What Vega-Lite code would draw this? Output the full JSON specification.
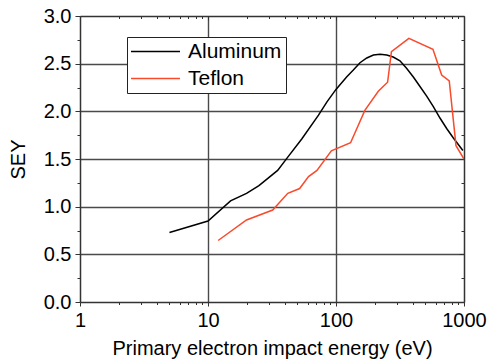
{
  "$schema": "https://vega.github.io/schema/vega-lite/v6.json",
  "width": 384,
  "height": 286,
  "autosize": {"type": "none"},
  "padding": {"left": 80, "top": 16, "right": 24, "bottom": 60},
  "background": "white",
  "config": {
    "view": {"stroke": null},
    "font": "Liberation Sans",
    "axis": {
      "labelFont": "Liberation Sans",
      "labelFontSize": 20,
      "labelColor": "#000000",
      "titleFont": "Liberation Sans",
      "titleFontSize": 20,
      "titleFontWeight": "normal",
      "titleColor": "#000000",
      "domainColor": "#333333",
      "domainWidth": 1.5,
      "tickColor": "#333333",
      "tickWidth": 1,
      "gridColor": "#4a4a4a",
      "gridWidth": 1.4,
      "labelOverlap": false,
      "labelFlush": false,
      "labelBound": false
    },
    "legend": {
      "orient": "none",
      "legendX": 47,
      "legendY": 21,
      "strokeColor": "#222222",
      "fillColor": "white",
      "padding": 4,
      "symbolType": "M-4,0H4",
      "symbolSize": 150,
      "symbolStrokeWidth": 1.5,
      "symbolOffset": 14,
      "labelFont": "Liberation Sans",
      "labelFontSize": 21,
      "labelColor": "#000000",
      "labelOffset": 22,
      "rowPadding": 5
    }
  },
  "data": {
    "values": [
      {"material": "Aluminum", "energy": 5, "sey": 0.73},
      {"material": "Aluminum", "energy": 10, "sey": 0.85},
      {"material": "Aluminum", "energy": 15, "sey": 1.06},
      {"material": "Aluminum", "energy": 20, "sey": 1.14},
      {"material": "Aluminum", "energy": 25, "sey": 1.22},
      {"material": "Aluminum", "energy": 35, "sey": 1.38},
      {"material": "Aluminum", "energy": 42, "sey": 1.52},
      {"material": "Aluminum", "energy": 54, "sey": 1.71},
      {"material": "Aluminum", "energy": 73, "sey": 1.96},
      {"material": "Aluminum", "energy": 85, "sey": 2.10},
      {"material": "Aluminum", "energy": 100, "sey": 2.23},
      {"material": "Aluminum", "energy": 121, "sey": 2.36},
      {"material": "Aluminum", "energy": 136, "sey": 2.43},
      {"material": "Aluminum", "energy": 154, "sey": 2.51},
      {"material": "Aluminum", "energy": 174, "sey": 2.56},
      {"material": "Aluminum", "energy": 196, "sey": 2.59},
      {"material": "Aluminum", "energy": 221, "sey": 2.60},
      {"material": "Aluminum", "energy": 249, "sey": 2.59},
      {"material": "Aluminum", "energy": 280, "sey": 2.57},
      {"material": "Aluminum", "energy": 316, "sey": 2.53},
      {"material": "Aluminum", "energy": 357, "sey": 2.45},
      {"material": "Aluminum", "energy": 402, "sey": 2.36},
      {"material": "Aluminum", "energy": 453, "sey": 2.26},
      {"material": "Aluminum", "energy": 511, "sey": 2.16},
      {"material": "Aluminum", "energy": 576, "sey": 2.05},
      {"material": "Aluminum", "energy": 649, "sey": 1.93},
      {"material": "Aluminum", "energy": 732, "sey": 1.82},
      {"material": "Aluminum", "energy": 826, "sey": 1.72},
      {"material": "Aluminum", "energy": 980, "sey": 1.59},
      {"material": "Teflon", "energy": 12, "sey": 0.645},
      {"material": "Teflon", "energy": 20, "sey": 0.86},
      {"material": "Teflon", "energy": 32, "sey": 0.965},
      {"material": "Teflon", "energy": 42, "sey": 1.14},
      {"material": "Teflon", "energy": 52, "sey": 1.19},
      {"material": "Teflon", "energy": 61, "sey": 1.315},
      {"material": "Teflon", "energy": 71, "sey": 1.38},
      {"material": "Teflon", "energy": 92, "sey": 1.585},
      {"material": "Teflon", "energy": 130, "sey": 1.67},
      {"material": "Teflon", "energy": 168, "sey": 2.01},
      {"material": "Teflon", "energy": 214, "sey": 2.21},
      {"material": "Teflon", "energy": 253, "sey": 2.305},
      {"material": "Teflon", "energy": 271, "sey": 2.625},
      {"material": "Teflon", "energy": 371, "sey": 2.765},
      {"material": "Teflon", "energy": 572, "sey": 2.65},
      {"material": "Teflon", "energy": 669, "sey": 2.38},
      {"material": "Teflon", "energy": 767, "sey": 2.32},
      {"material": "Teflon", "energy": 866, "sey": 1.64},
      {"material": "Teflon", "energy": 1000, "sey": 1.50}
    ]
  },
  "layer": [
    {
      "transform": [{"filter": "datum.material == 'Aluminum'"}],
      "mark": {"type": "line", "strokeWidth": 1.5, "clip": true},
      "encoding": {
        "x": {
          "field": "energy",
          "type": "quantitative",
          "scale": {"type": "log", "domain": [1, 1000], "nice": false},
          "axis": {
            "orient": "bottom",
            "title": "Primary electron impact energy (eV)",
            "titlePadding": 8,
            "values": [1, 2, 3, 4, 5, 6, 7, 8, 9, 10, 20, 30, 40, 50, 60, 70, 80, 90, 100, 200, 300, 400, 500, 600, 700, 800, 900, 1000],
            "labelExpr": "indexof([1, 10, 100, 1000], datum.value) >= 0 ? '' + datum.value : ''",
            "labelPadding": 4,
            "grid": true,
            "gridOpacity": {"condition": {"test": "indexof([10, 100], datum.value) >= 0", "value": 1}, "value": 0},
            "tickSize": {"condition": {"test": "indexof([1, 10, 100, 1000], datum.value) >= 0", "value": 4}, "value": 2.5}
          }
        },
        "y": {
          "field": "sey",
          "type": "quantitative",
          "scale": {"domain": [0, 3], "nice": false, "zero": true},
          "axis": {
            "orient": "left",
            "title": "SEY",
            "titlePadding": 15,
            "values": [0, 0.25, 0.5, 0.75, 1, 1.25, 1.5, 1.75, 2, 2.25, 2.5, 2.75, 3],
            "labelExpr": "datum.value * 2 == round(datum.value * 2) ? format(datum.value, '.1f') : ''",
            "labelPadding": 4,
            "grid": true,
            "gridOpacity": {"condition": {"test": "datum.value * 2 == round(datum.value * 2) && datum.value > 0 && datum.value < 3", "value": 1}, "value": 0},
            "tickSize": {"condition": {"test": "datum.value * 2 == round(datum.value * 2)", "value": 5}, "value": 3}
          }
        },
        "color": {
          "field": "material",
          "type": "nominal",
          "scale": {"domain": ["Aluminum", "Teflon"], "range": ["#000000", "#f94a2c"]},
          "legend": {"title": null}
        }
      }
    },
    {
      "transform": [{"filter": "datum.material == 'Teflon'"}],
      "mark": {"type": "line", "strokeWidth": 1.5, "clip": true},
      "encoding": {
        "x": {
          "field": "energy",
          "type": "quantitative",
          "scale": {"type": "log", "domain": [1, 1000], "nice": false},
          "axis": {
            "orient": "top",
            "title": null,
            "labels": false,
            "grid": false,
            "values": [1, 2, 3, 4, 5, 6, 7, 8, 9, 10, 20, 30, 40, 50, 60, 70, 80, 90, 100, 200, 300, 400, 500, 600, 700, 800, 900, 1000],
            "tickSize": {"condition": {"test": "indexof([1, 10, 100, 1000], datum.value) >= 0", "value": -4}, "value": -2.5}
          }
        },
        "y": {
          "field": "sey",
          "type": "quantitative",
          "scale": {"domain": [0, 3], "nice": false, "zero": true},
          "axis": {
            "orient": "right",
            "title": null,
            "labels": false,
            "grid": false,
            "values": [0, 0.25, 0.5, 0.75, 1, 1.25, 1.5, 1.75, 2, 2.25, 2.5, 2.75, 3],
            "tickSize": {"condition": {"test": "datum.value * 2 == round(datum.value * 2)", "value": -5}, "value": -3}
          }
        },
        "color": {
          "field": "material",
          "type": "nominal",
          "scale": {"domain": ["Aluminum", "Teflon"], "range": ["#000000", "#f94a2c"]},
          "legend": {"title": null}
        }
      }
    }
  ],
  "resolve": {"axis": {"x": "independent", "y": "independent"}}
}
